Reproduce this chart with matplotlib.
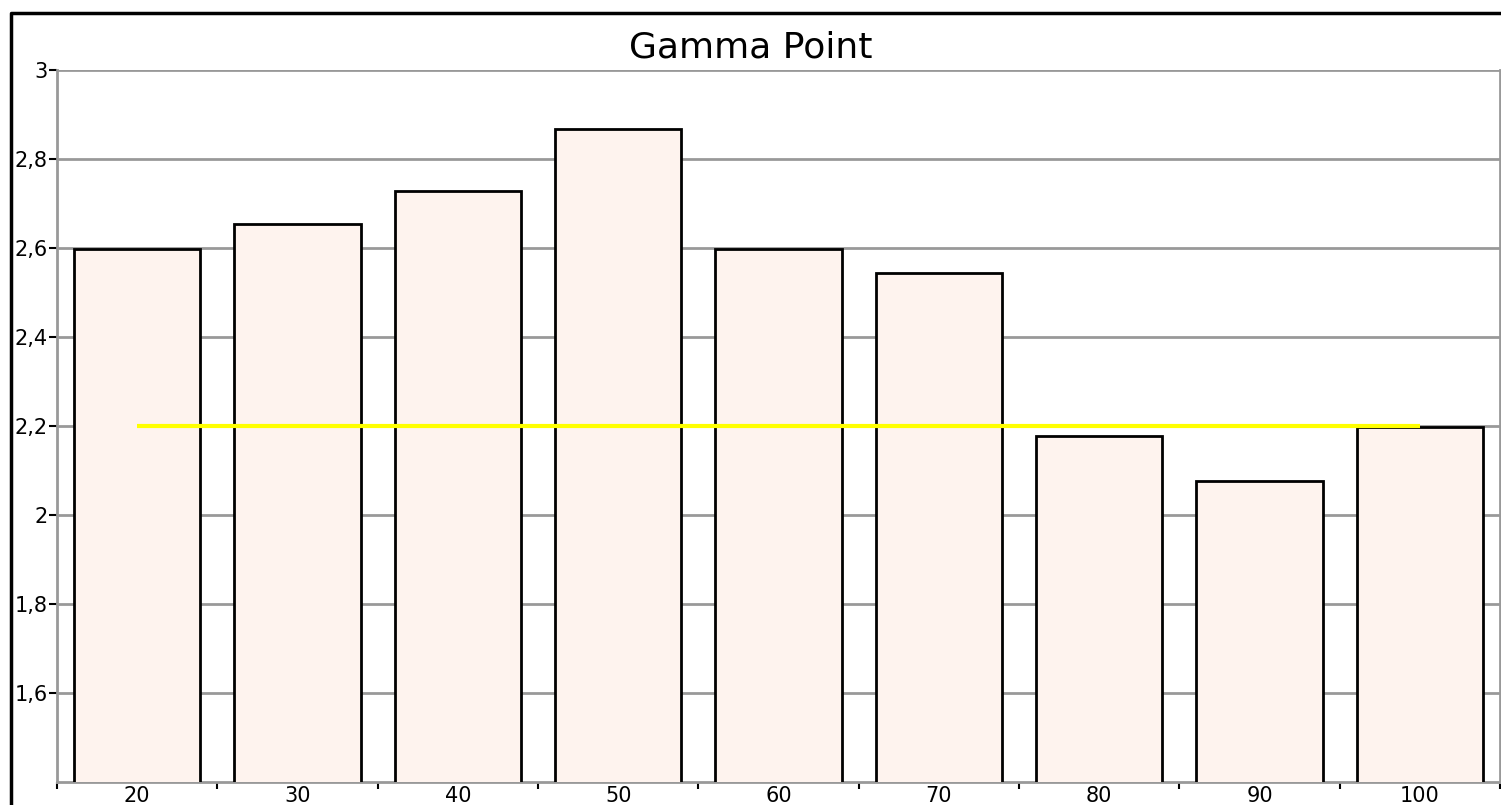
import matplotlib
matplotlib.use("Agg")
import matplotlib.pyplot as plt
from matplotlib.lines import Line2D
import numpy as np

categories = ["20", "30", "40", "50", "60", "70", "80", "90", "100"]
values = [2.598, 2.655, 2.728, 2.867, 2.598, 2.544, 2.178, 2.076, 2.198]
target = [2.2] * 9
yticks = [1.6, 1.8, 2.0, 2.2, 2.4, 2.6, 2.8, 3.0]
ytick_labels = ["1,6", "1,8", "2", "2,2", "2,4", "2,6", "2,8", "3"]

W, H = 1501, 805
fig = plt.figure(figsize=(W / 100, H / 100), dpi=100)
plt.rcParams['font.family'] = ['DejaVu Sans']
ax = fig.add_axes([57 / W, (H - 782) / H, (1500 - 57) / W, (782 - 70) / H])

x = np.arange(len(categories))
ax.bar(x, values, width=0.79, color="#FEF3EE", edgecolor="black", linewidth=2, zorder=3)
ax.plot(x, target, color="#FFFF00", linewidth=3, zorder=4, solid_capstyle="butt")

ax.set_xlim(-0.5, len(categories) - 0.5)
ax.set_ylim(1.4, 3.0)
ax.set_yticks(yticks)
ax.set_yticklabels(ytick_labels, fontsize=15)
ax.set_xticks(x)
ax.set_xticklabels(categories, fontsize=15)
ax.tick_params(axis="x", which="major", length=0, pad=3)
ax.set_xticks(np.arange(-0.5, len(categories)), minor=True)
ax.tick_params(axis="x", which="minor", length=5, width=1.5, color="black", direction="out")
ax.tick_params(axis="y", length=6, width=1.5, color="black", pad=0.5)

ax.grid(axis="y", color="#999999", linewidth=2, zorder=0)
ax.set_axisbelow(True)
for s in ["left", "bottom", "right"]:
    ax.spines[s].set_color("#999999")
    ax.spines[s].set_linewidth(2)
ax.spines["top"].set_visible(False)

fig.text(0.5, 1 - 57 / H, "Gamma Point", ha="center", va="baseline", fontsize=26)

# outer border (left and top)
fig.add_artist(Line2D([11 / W, 11 / W, 1.0], [0.0, 1 - 13 / H, 1 - 13 / H],
                      transform=fig.transFigure, color="black", linewidth=2.5))

fig.savefig("out.png", dpi=100)
